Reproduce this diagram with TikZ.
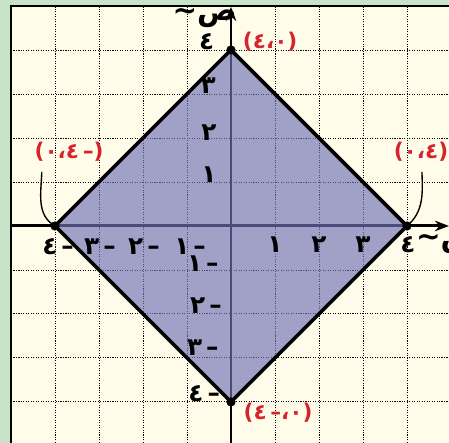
\documentclass[tikz,border=0pt]{standalone}
\usepackage{fontspec}
\newfontfamily\arabicfont[Script=Arabic]{DejaVu Sans}
\newfontfamily\latinfont{DejaVu Sans}
\usetikzlibrary{arrows.meta}
\definecolor{bggreen}{RGB}{200,228,200}
\definecolor{paper}{RGB}{255,253,233}
\definecolor{diamondfill}{RGB}{113,114,183}
\definecolor{labred}{RGB}{215,35,45}
\newcommand{\gl}[1]{\hbox{#1}}
\newcommand{\lp}{\hbox{\latinfont\bfseries(}}
\newcommand{\rp}{\hbox{\latinfont\bfseries)}}
\newcommand{\dsh}{\hbox{\latinfont\bfseries\,–}}
\newcommand{\ngv}[1]{\gl{#1}\dsh}
\begin{document}
\begin{tikzpicture}[x=1cm,y=1cm,
  grid line/.style={line width=0.6pt, dash pattern=on 0.7pt off 0.9pt},
  axis line/.style={line width=1.9pt},
  edge line/.style={line width=2.3pt, line join=miter},
  lab/.style={font=\arabicfont\bfseries\fontsize{16}{18}\selectfont, inner sep=0pt},
  redlab/.style={lab, text=labred, font=\arabicfont\bfseries\fontsize{14}{16}\selectfont},
  vdot/.style={circle, fill=black, inner sep=0pt, minimum size=2.1mm},
  conn/.style={line width=0.9pt}
]
\useasboundingbox (-5.25,-4.932) rectangle (4.955,5.136);
\fill[bggreen] (-5.25,-4.932) rectangle (4.955,5.136);
\fill[paper] (-5,-4.932) rectangle (4.955,5);
\draw[line width=0.9pt] (-5,-4.932) -- (-5,5) -- (4.955,5);
\foreach \i in {-4,-3,-2,-1,1,2,3,4} \draw[grid line] (\i,-4.932) -- (\i,5);
\foreach \j in {-4,-3,-2,-1,1,2,3,4} \draw[grid line] (-5,\j) -- (4.955,\j);
% axes
\coordinate (xs) at (-5,0);
\coordinate (xe) at (4.955,0);
\coordinate (ys) at (0,-4.932);
\coordinate (ye) at (0,4.98);
\draw[axis line, -{Stealth[length=3.2mm,width=2.4mm]}] (xs) -- (xe);
\draw[axis line, -{Stealth[length=3.2mm,width=2.4mm]}] (ys) -- (ye);
% diamond
\coordinate (R) at (4,0);
\coordinate (T) at (0,4);
\coordinate (L) at (-4,0);
\coordinate (B) at (0,-4);
\fill[diamondfill, opacity=0.66] (R) -- (T) -- (L) -- (B) -- cycle;
\draw[edge line] (R) -- (T) -- (L) -- (B) -- cycle;
\node[vdot] (vR) at (R) {};
\node[vdot] (vT) at (T) {};
\node[vdot] (vL) at (L) {};
\node[vdot] (vB) at (B) {};
% x labels
\node[lab] (x1) at (1,-0.43) {\gl{١}};
\node[lab] (x2) at (2,-0.43) {\gl{٢}};
\node[lab] (x3) at (3,-0.43) {\gl{٣}};
\node[lab] (x4) at (4.02,-0.43) {\gl{٤}};
\node[lab] (xm1) at (-0.93,-0.46) {\ngv{١}};
\node[lab] (xm2) at (-1.98,-0.48) {\ngv{٢}};
\node[lab] (xm3) at (-2.98,-0.48) {\ngv{٣}};
\node[lab] (xm4) at (-3.93,-0.48) {\ngv{٤}};
% y labels
\node[lab] (y1) at (-0.5,1.16) {\gl{١}};
\node[lab] (y2) at (-0.5,2.11) {\gl{٢}};
\node[lab] (y3) at (-0.52,3.18) {\gl{٣}};
\node[lab] (y4) at (-0.55,4.2) {\gl{٤}};
\node[lab] (ym1) at (-0.64,-0.86) {\ngv{١}};
\node[lab] (ym2) at (-0.57,-1.8) {\ngv{٢}};
\node[lab] (ym3) at (-0.64,-2.77) {\ngv{٣}};
\node[lab] (ym4) at (-0.61,-3.8) {\ngv{٤}};
% axis names
\node[lab, font=\arabicfont\bfseries\fontsize{19}{21}\selectfont] (ylab) at (-0.6,4.72) {\gl{\latinfont\char"007E}\gl{ص}};
\node[lab, anchor=west, font=\arabicfont\bfseries\fontsize{19}{21}\selectfont] (xlab) at (4.2,-0.42) {\gl{\latinfont\char"007E}\gl{س}};
% red labels
\node[redlab] (pT) at (0.89,4.18) {\lp\gl{٤}\gl{،}\gl{٠}\rp};
\node[redlab] (pL) at (-3.68,1.68) {\lp\gl{٠}\gl{،}\gl{٤}\dsh\rp};
\node[redlab] (pR) at (4.32,1.68) {\lp\gl{٠}\gl{،}\gl{٤}\rp};
\node[redlab] (pB) at (1.07,-4.25) {\lp\gl{٤}\dsh\gl{،}\gl{٠}\rp};
% connectors
\coordinate (cL) at (-4.3,1.23);
\coordinate (cR) at (4.34,1.23);
\draw[conn] (cL) to[out=-92,in=150] (vL.center);
\draw[conn] (cR) to[out=-88,in=40] (vR.center);
\end{tikzpicture}
\end{document}
